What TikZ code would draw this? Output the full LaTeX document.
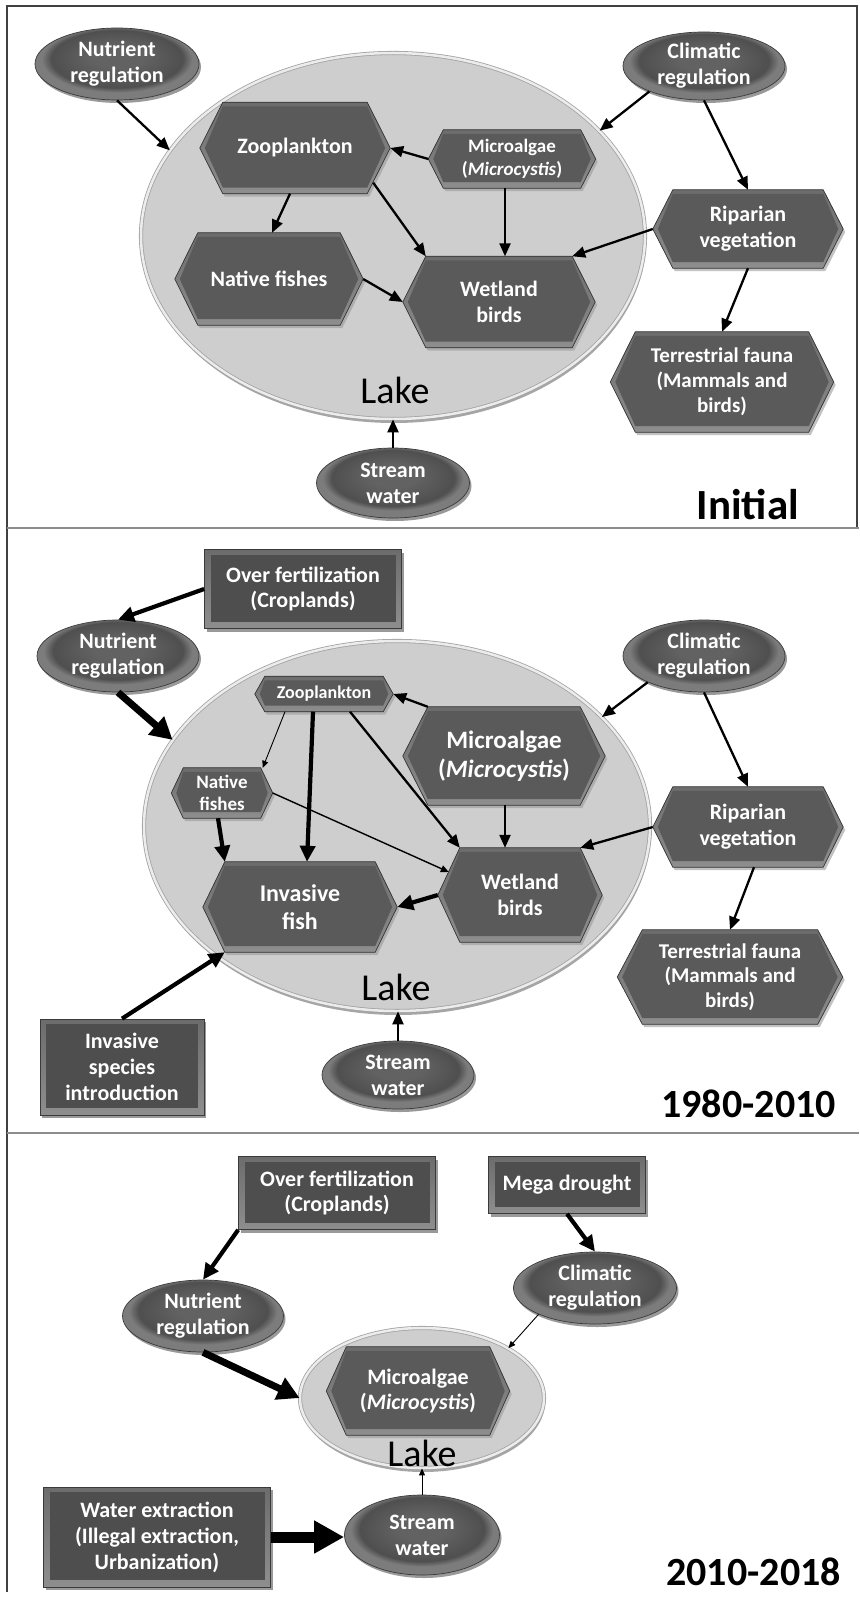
\documentclass[tikz,border=0pt]{standalone}
\usepackage{fontspec}
\setmainfont{Carlito}
\usetikzlibrary{arrows.meta,shapes.geometric,shadows,calc}
\pgfdeclarelayer{lakelayer}
\pgfdeclarelayer{shapelayer}
\pgfsetlayers{lakelayer,shapelayer,main}
\definecolor{hexface}{HTML}{5A5A5A}
\definecolor{bevtop}{HTML}{6C6C6C}
\definecolor{bevbot}{HTML}{8E8E8E}
\definecolor{edgec}{HTML}{3A3A3A}
\definecolor{shadc}{HTML}{9A9A9A}
\definecolor{rectface}{HTML}{4E4E4E}
\definecolor{ellA}{HTML}{626262}
\definecolor{ellB}{HTML}{4F4F4F}
\definecolor{ellC}{HTML}{7C7C7C}
\definecolor{lakefill}{HTML}{CECECE}
\definecolor{lakeedge}{HTML}{A2A2A2}
\definecolor{lakering}{HTML}{ECECEC}
\definecolor{framec}{HTML}{404040}
\definecolor{sepc}{HTML}{8C8C8C}
\pgfdeclareradialshading{rim}{\pgfpoint{0bp}{6bp}}{color(0bp)=(ellA); color(8bp)=(ellA); color(20bp)=(ellB); color(23bp)=(ellC); color(50bp)=(ellC)}
\newcommand\fz[1]{\fontsize{#1}{\fpeval{1.18*#1}}\selectfont}
% hexagon outline from the anchors of a named node
\newcommand\hexp[6]{([xshift=#3pt+#5pt,yshift=#4pt]#1.west) -- ([xshift=#3pt+#2pt,yshift=#4pt-#6pt]#1.north west) -- ([xshift=#3pt-#2pt,yshift=#4pt-#6pt]#1.north east) -- ([xshift=#3pt-#5pt,yshift=#4pt]#1.east) -- ([xshift=#3pt-#2pt,yshift=#4pt+1.5*#6pt]#1.south east) -- ([xshift=#3pt+#2pt,yshift=#4pt+1.5*#6pt]#1.south west) -- cycle}
\newcommand\hexn[8]{%
 \node[hextxt,minimum width=#4pt,minimum height=#5pt,font=\bfseries\fz{#7}] (#1) at (#2,#3) {#8};
 \begin{pgfonlayer}{shapelayer}
  \fill[shadc,opacity=0.6] \hexp{#1}{#6}{2}{-3}{0}{0};
  \fill[top color=bevtop,bottom color=bevbot] \hexp{#1}{#6}{0}{0}{0}{0};
  \fill[hexface] \hexp{#1}{#6}{0}{0}{5}{4};
  \draw[edgec,line width=0.7pt] \hexp{#1}{#6}{0}{0}{0}{0};
 \end{pgfonlayer}}
\tikzset{
 hextxt/.style={rectangle,inner sep=0pt,text=white,align=center},
 ell/.style={ellipse,draw=edgec,line width=0.7pt,shade,shading=rim,inner sep=0pt,text=white,
   font=\bfseries\fz{22},align=center,
   drop shadow={shadow xshift=2pt,shadow yshift=-3pt,opacity=0.4,fill=black}},
 rbox/.style={rectangle,draw=edgec,line width=0.7pt,top color=bevtop,bottom color=bevbot,
   inner sep=0pt,text=white,font=\bfseries\fz{22},align=center,
   drop shadow={shadow xshift=2pt,shadow yshift=-3pt,opacity=0.4,fill=black},
   path picture={\fill[rectface] ([shift={(6pt,7pt)}]path picture bounding box.south west)
     rectangle ([shift={(-6pt,-5pt)}]path picture bounding box.north east);}},
 lakeshape/.style={ellipse,draw=lakeedge,line width=0.8pt,double=lakering,double distance=2.5pt,
   fill=lakefill,inner sep=0pt,
   drop shadow={shadow xshift=1pt,shadow yshift=-4pt,opacity=0.35,fill=black}},
 lakelab/.style={font=\fz{38},text=black,inner sep=0pt},
 yearlab/.style={font=\bfseries\fz{#1},text=black,inner sep=0pt,anchor=east},
 thinarr/.style={line width=0.9pt,-{Triangle[length=7pt,width=6pt]}},
 midarr/.style={line width=1.4pt,-{Triangle[length=8pt,width=7pt]}},
 arr/.style={line width=2.3pt,-{Triangle[length=13pt,width=11pt]}},
 thickarr/.style={line width=4.2pt,-{Triangle[length=16pt,width=15pt]}},
 hugearr/.style={line width=7pt,-{Triangle[length=22pt,width=23pt]}},
 maxarr/.style={line width=11pt,-{Triangle[length=30pt,width=31pt]}},
}
\begin{document}
\begin{tikzpicture}[x=1pt,y=-1pt]
\useasboundingbox (0,0) rectangle (859,1597);
\begin{pgfonlayer}{lakelayer}
 \fill[white] (0,0) rectangle (859,1597);
 \node[lakeshape,minimum width=504pt,minimum height=366pt] (lake1) at (393,236) {};
 \node[lakeshape,minimum width=506pt,minimum height=370pt] (lake2) at (397,826) {};
 \node[lakeshape,minimum width=244pt,minimum height=140pt] (lake3) at (422,1398) {};
\end{pgfonlayer}
% frame
\draw[framec,line width=1.3pt] (7,1592) -- (7,6) -- (857,6) -- (857,528);
\draw[sepc,line width=2pt] (7,528) -- (859,528);
\draw[sepc,line width=2pt] (7,1133) -- (859,1133);

% ---------------- Panel 1 ----------------
\node[ell,minimum width=164pt,minimum height=72pt] (nut1) at (117,64) {Nutrient\\regulation};
\node[ell,minimum width=162pt,minimum height=68pt] (cli1) at (704,66) {Climatic\\regulation};
\hexn{zoo1}{295}{148}{190}{91}{23}{22}{Zooplankton}
\hexn{mic1}{512}{159}{167}{58}{15}{19}{Microalgae\\(\textit{Microcystis})}
\hexn{nat1}{269}{279}{188}{92}{23}{22}{Native fishes}
\hexn{wet1}{499}{302}{192}{91}{23}{22}{Wetland\\birds}
\hexn{rip1}{748}{229}{190}{78}{20}{22}{Riparian\\vegetation}
\hexn{ter1}{722}{382}{223}{100}{25}{21}{Terrestrial fauna\\(Mammals and\\birds)}
\node[ell,minimum width=153pt,minimum height=70pt] (str1) at (393,483) {Stream\\water};
\node[lakelab] (lab1) at (395,390) {Lake};
\node[yearlab=43] (yr1) at (799,505) {Initial};

\draw[arr] (nut1.south) -- (lake1.159);
\draw[arr] (cli1.205) -- (lake1.27);
\draw[arr] (cli1.south) -- (rip1.north);
\draw[arr] (mic1.west) -- (zoo1.east);
\draw[arr] ([xshift=-5pt]zoo1.south) -- ([xshift=3pt]nat1.north);
\draw[arr] ([xshift=-17pt,yshift=11pt]zoo1.south east) -- ([xshift=23pt]wet1.north west);
\draw[arr] ([xshift=-7pt]mic1.south) -- ([xshift=6pt]wet1.north);
\draw[arr] (rip1.west) -- ([xshift=-23pt]wet1.north east);
\draw[arr] (nat1.east) -- (wet1.west);
\draw[arr] (rip1.south) -- (ter1.north);
\draw[arr] (str1.north) -- (str1.north |- lake1.south);

% ---------------- Panel 2 ----------------
\node[rbox,minimum width=197pt,minimum height=79pt] (ovf2) at (303,589) {Over fertilization\\(Croplands)};
\node[ell,minimum width=162pt,minimum height=72pt] (nut2) at (118,656) {Nutrient\\regulation};
\node[ell,minimum width=162pt,minimum height=72pt] (cli2) at (704,656) {Climatic\\regulation};
\hexn{zoo2}{324}{694}{138}{35}{10}{18}{Zooplankton}
\hexn{mic2}{504}{756}{202}{98}{25}{25}{Microalgae\\(\textit{Microcystis})}
\hexn{nat2}{222}{793}{101}{50}{12}{19}{Native\\fishes}
\hexn{inv2}{300}{907}{194}{90}{22}{24}{Invasive\\fish}
\hexn{wet2}{520}{895}{164}{94}{22}{22}{Wetland\\birds}
\hexn{rip2}{748}{827}{190}{80}{20}{22}{Riparian\\vegetation}
\hexn{ter2}{730}{977}{225}{94}{25}{21}{Terrestrial fauna\\(Mammals and\\birds)}
\node[rbox,minimum width=164pt,minimum height=96pt] (isp2) at (122,1067) {Invasive\\species\\introduction};
\node[ell,minimum width=152pt,minimum height=68pt] (str2) at (398,1075) {Stream\\water};
\node[lakelab] (lab2) at (396,987) {Lake};
\node[yearlab=40] (yr2) at (836,1104) {1980-2010};

\draw[thickarr] (ovf2.west) -- (nut2.north);
\draw[hugearr] (nut2.south) -- (lake2.159);
\draw[arr] (cli2.205) -- (lake2.28);
\draw[arr] (cli2.south) -- (rip2.north);
\draw[arr] ([xshift=25pt]mic2.north west) -- (zoo2.east);
\draw[thinarr] ([xshift=-39pt]zoo2.south) -- ([xshift=-10pt]nat2.north east);
\draw[thickarr] ([xshift=-11pt]zoo2.south) -- ([xshift=7pt]inv2.north);
\draw[arr] ([xshift=26pt]zoo2.south) -- ([xshift=22pt]wet2.north west);
\draw[midarr] (nat2.east) -- ([xshift=11pt,yshift=23pt]wet2.west);
\draw[thickarr] ([xshift=-4pt]nat2.south) -- ([xshift=22pt]inv2.north west);
\draw[arr] ([xshift=1pt]mic2.south) -- ([xshift=-15pt]wet2.north);
\draw[arr] (rip2.west) -- ([xshift=-22pt]wet2.north east);
\draw[thickarr] (wet2.west) -- (inv2.east);
\draw[arr] ([xshift=6pt]rip2.south) -- (ter2.north);
\draw[thickarr] (isp2.north) -- ([xshift=22pt]inv2.south west);
\draw[arr] (str2.north) -- (str2.north |- lake2.south);

% ---------------- Panel 3 ----------------
\node[rbox,minimum width=197pt,minimum height=73pt] (ovf3) at (337,1193) {Over fertilization\\(Croplands)};
\node[rbox,minimum width=157pt,minimum height=57pt] (meg3) at (567,1185) {Mega drought};
\node[ell,minimum width=161pt,minimum height=72pt] (nut3) at (203,1316) {Nutrient\\regulation};
\node[ell,minimum width=163pt,minimum height=72pt] (cli3) at (595,1288) {Climatic\\regulation};
\hexn{mic3}{418}{1391}{183}{88}{20}{22}{Microalgae\\(\textit{Microcystis})}
\node[lakelab] (lab3) at (422,1453) {Lake};
\node[ell,minimum width=155pt,minimum height=80pt] (str3) at (422,1535) {Stream\\water};
\node[rbox,minimum width=227pt,minimum height=100pt] (wat3) at (157,1537) {Water extraction\\(Illegal extraction,\\Urbanization)};
\node[yearlab=40] (yr3) at (841,1572) {2010-2018};

\draw[thickarr] (ovf3.south west) -- (nut3.north);
\draw[thickarr] (meg3.south) -- (cli3.north);
\draw[hugearr] (nut3.south) -- (lake3.west);
\draw[thinarr] (cli3.205) -- (lake3.30);
\draw[thinarr] (str3.north) -- (str3.north |- lake3.south);
\draw[maxarr] (wat3.east) -- (wat3.east -| str3.west);
\end{tikzpicture}
\end{document}
